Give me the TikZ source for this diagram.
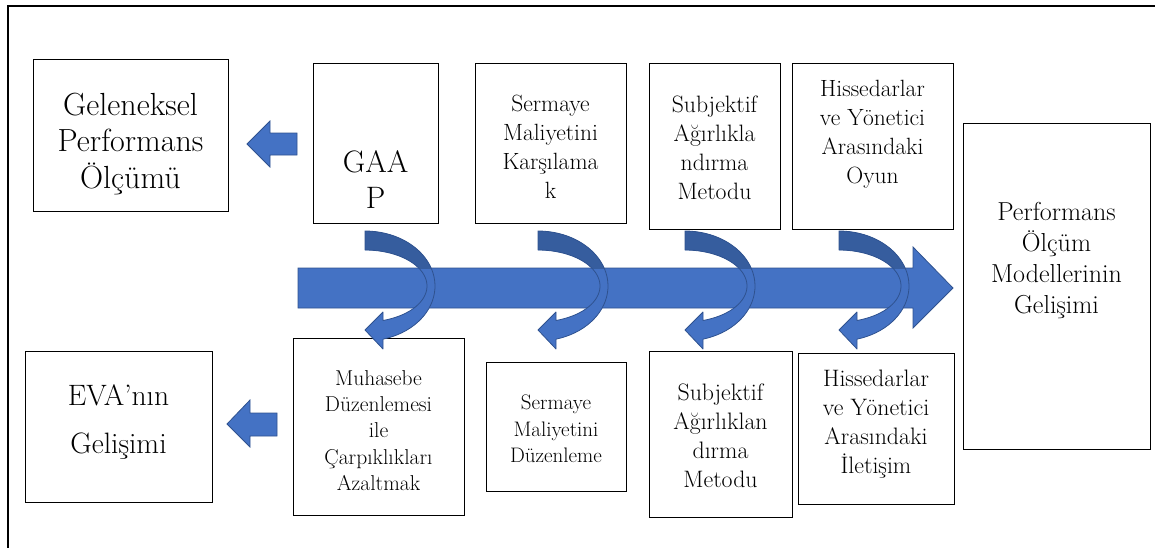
\documentclass[tikz,border=0pt]{standalone}
\usepackage{fontspec}
\definecolor{arrowblue}{HTML}{4472C4}
\definecolor{arrowdark}{HTML}{365D9E}
\definecolor{arrowline}{HTML}{2F528F}
\newcommand\fsc{1.0}
\newcommand\txtlines[3]{\fontsize{\fpeval{#1*\fsc}}{#2}\selectfont\begin{tabular}[t]{@{}c@{}}#3\end{tabular}}
\newcommand\curvepath{plot[domain=0:1, samples=40, variable=\t] ({70*cos(-90+165.1*\t)},{55*sin(-90+165.1*\t)}) -- (18,63) -- (0,44) -- (18,26) -- plot[domain=0:1, samples=40, variable=\t] ({62*cos(73.1-163.1*\t)},{36*sin(73.1-163.1*\t)}) -- cycle}
\begin{document}
\begin{tikzpicture}[x=1pt,y=-1pt,
  box/.style={draw=black, line width=1pt, inner sep=0pt},
  txt/.style={anchor=base, inner sep=0pt},
  blockarrow/.style={fill=arrowblue, draw=arrowline, line width=0.8pt, line join=miter}]
\useasboundingbox (0,0) rectangle (1155,547);
\draw[line width=1.6pt] (8,548) -- (8,6) -- (1156,6);

% boxes
\node[box, minimum width=195, minimum height=152] (gel) at (130.5,135) {};
\node[box, minimum width=125, minimum height=160] (gaap) at (375.5,143) {};
\node[box, minimum width=151, minimum height=160] (serm1) at (550.5,143) {};
\node[box, minimum width=131, minimum height=166] (subj1) at (714.5,146) {};
\node[box, minimum width=161, minimum height=166] (hiss1) at (872.5,146) {};
\node[box, minimum width=187, minimum height=326] (perf) at (1056.5,286) {};
\node[box, minimum width=187, minimum height=151] (eva) at (118.5,426.5) {};
\node[box, minimum width=171, minimum height=177] (muh) at (378.5,426.5) {};
\node[box, minimum width=140, minimum height=129] (serm2) at (556,426.5) {};
\node[box, minimum width=143, minimum height=166] (subj2) at (720.5,434) {};
\node[box, minimum width=156, minimum height=151] (hiss2) at (876,428.5) {};

% texts
\node[txt] (gel-t) at (130.5,115) {\txtlines{32}{36.5}{Geleneksel\\Performans\\Ölçümü}};
\node[txt] (gaap-t) at (375.5,172) {\txtlines{31}{36}{GAA\\P}};
\node[txt] (serm1-t) at (550.5,111.7) {\txtlines{23.5}{29}{Sermaye\\Maliyetini\\Karşılama\\k}};
\node[txt] (subj1-t) at (714.5,112.7) {\txtlines{23.7}{29}{Subjektif\\Ağırlıkla\\ndırma\\Metodu}};
\node[txt] (hiss1-t) at (872.5,96) {\txtlines{23.5}{29.3}{Hissedarlar\\ve Yönetici\\Arasındaki\\Oyun}};
\node[txt] (perf-t) at (1056.5,220.7) {\txtlines{26}{30.8}{Performans\\Ölçüm\\Modellerinin\\Gelişimi}};
\node[txt] (eva-t) at (118.5,405) {\txtlines{29.5}{48}{EVA’nın\\Gelişimi}};
\node[txt] (muh-t) at (378.5,385) {\txtlines{21.5}{26.4}{Muhasebe\\Düzenlemesi\\ile\\Çarpıklıkları\\Azaltmak}};
\node[txt] (serm2-t) at (556,409.3) {\txtlines{21}{26.7}{Sermaye\\Maliyetini\\Düzenleme}};
\node[txt] (subj2-t) at (720.5,400) {\txtlines{23.8}{29.3}{Subjektif\\Ağırlıklan\\dırma\\Metodu}};
\node[txt] (hiss2-t) at (876,386) {\txtlines{23.8}{29.3}{Hissedarlar\\ve Yönetici\\Arasındaki\\İletişim}};

% left block arrows
\draw[blockarrow] (297,133) -- (270,133) -- (270,121) -- (247,144) -- (270,167) -- (270,155) -- (297,155) -- cycle;
\draw[blockarrow] (277,413) -- (250,413) -- (250,400) -- (227,424) -- (250,447) -- (250,436) -- (277,436) -- cycle;

% main arrow
\draw[blockarrow] (298,268) -- (913,268) -- (913,247) -- (953,288) -- (913,328) -- (913,308) -- (298,308) -- cycle;

% curved arrows
\foreach \cx in {365,538,685,839} {
  \begin{scope}[shift={(\cx,286)}]
    \fill[arrowblue] \curvepath;
    \begin{scope}
      \clip (-100,-100) rectangle (100,-18);
      \fill[arrowdark] \curvepath;
    \end{scope}
    \draw[arrowline, line width=0.8pt, line join=round] \curvepath;
  \end{scope}
}
\end{tikzpicture}
\end{document}
